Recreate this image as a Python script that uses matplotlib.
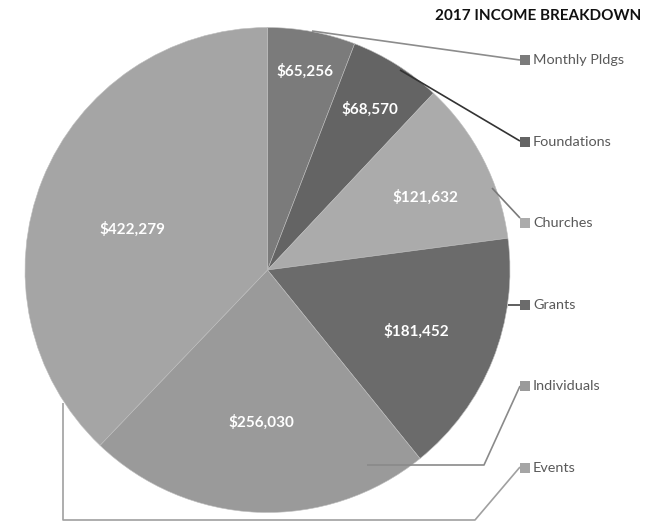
import numpy as np
import matplotlib.pyplot as plt

categories = ["Monthly Pldgs", "Foundations", "Churches", "Grants", "Individuals", "Events"]
amounts = [65256, 68570, 121632, 181452, 256030, 422279]
colors = ["#7b7b7b", "#646464", "#ababab", "#6b6b6b", "#9a9a9a", "#a5a5a5"]
title = "2017 INCOME BREAKDOWN"

W, H = 658, 523
cx, cy, r = 267.5, H - 270, 242.5
label_dist = [0.84, 0.79, 0.72, 0.66, 0.62, 0.585]
label_turn = [0, 0, -2, 0, 0, 4.5]   # degrees, nudges the value label around the slice

# leader lines (pixel coords, y from top) from pie edge to legend marker
leaders = [
    [(312, 31), (520, 60)],
    [(400, 70), (520, 141)],
    [(492, 188), (520, 218)],
    [(508, 305), (520, 305)],
    [(367, 465), (484, 465), (520, 386)],
    [(63, 403), (63, 520), (475, 520), (520, 467)],
]
leader_colors = ["#8c8c8c", "#333333", "#7a7a7a", "#444444", "#8a8a8a", "#a0a0a0"]

fig = plt.figure(figsize=(W / 100, H / 100), dpi=100)
ax = fig.add_axes([0, 0, 1, 1])

wedges, _ = ax.pie(amounts, colors=colors, startangle=90, counterclock=False,
                   center=(cx, cy), radius=r,
                   wedgeprops=dict(linewidth=0.4, edgecolor="#bdbdbd"))

for w, amt, d, t in zip(wedges, amounts, label_dist, label_turn):
    ang = np.deg2rad((w.theta1 + w.theta2) / 2 + t)
    ax.text(cx + d * r * np.cos(ang), cy + d * r * np.sin(ang), "${:,}".format(amt),
            ha="center", va="center_baseline", color="white", fontsize=11,
            fontweight="bold", family="Lato")

for pts, c in zip(leaders, leader_colors):
    xs = [p[0] for p in pts]
    ys = [H - p[1] for p in pts]
    ax.plot(xs, ys, color=c, lw=1.2, solid_capstyle="butt")

for i, (name, c) in enumerate(zip(categories, colors)):
    y = H - (60 + i * 81.6)
    ax.plot(524.5, y, marker="s", markersize=6.5, color=c, markeredgewidth=0)
    ax.text(533, y, name, ha="left", va="center", fontsize=10.4,
            color="#595959", family="Lato")

ax.text(538, H - 16, title, ha="center", va="center", fontsize=11,
        fontweight="bold", color="#111111", family="Lato")

ax.set_xlim(0, W)
ax.set_ylim(0, H)
ax.set_aspect("auto")
ax.axis("off")

plt.savefig("out.png", dpi=100)
